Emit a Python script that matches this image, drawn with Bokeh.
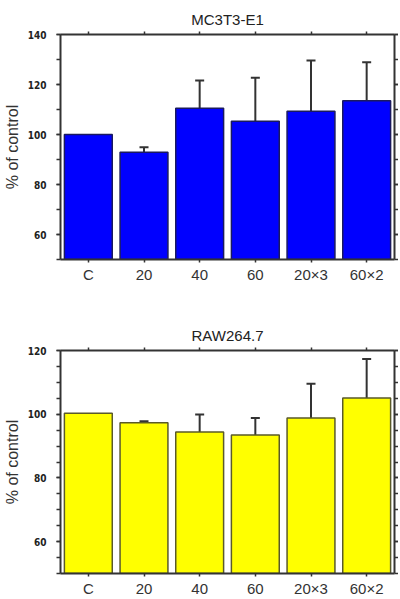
from bokeh.plotting import figure
from bokeh.models import (FactorRange, ColumnDataSource, Whisker, TeeHead, LinearAxis,
                          CategoricalAxis, SingleIntervalTicker, Range1d, CustomJSTickFormatter)
from bokeh.layouts import column
from bokeh.embed import file_html
from bokeh.resources import INLINE

categories = ["C", "20", "40", "60", "20×3", "60×2"]

mc3t3_mean = [100.0, 92.9, 110.5, 105.3, 109.3, 113.5]
mc3t3_sd = [0.0, 2.0, 11.1, 17.4, 20.3, 15.4]

raw_mean = [100.3, 97.3, 94.4, 93.5, 98.8, 105.1]
raw_sd = [0.0, 0.5, 5.5, 5.3, 10.8, 12.2]

AX = "#333333"
FONT = "Liberation Sans"


def make(title, means, sds, ymin, ymax, minor, fill, edge, fheight, top, bottom):
    p = figure(x_range=FactorRange(*categories, range_padding=0),
               y_range=Range1d(ymin, ymax), frame_width=334, frame_height=fheight,
               output_backend="svg", toolbar_location=None, title=title,
               min_border_left=53, min_border_right=3, min_border_top=top,
               min_border_bottom=bottom)
    p.outline_line_color = None
    p.grid.visible = False
    p.title.align = "center"
    p.title.text_font = FONT
    p.title.text_font_size = "15px"
    p.title.text_font_style = "normal"
    p.title.text_color = "#222222"
    p.title.standoff = 7

    src = ColumnDataSource(dict(x=categories, top=means))
    p.vbar(x="x", top="top", bottom=ymin, width=0.86, source=src,
           fill_color=fill, line_color=edge, line_width=1.5)

    ex = [c for c, s in zip(categories, sds) if s > 0]
    lo = [m for m, s in zip(means, sds) if s > 0]
    hi = [m + s for m, s in zip(means, sds) if s > 0]
    esrc = ColumnDataSource(dict(x=ex, lower=lo, upper=hi))
    p.add_layout(Whisker(base="x", lower="lower", upper="upper", source=esrc,
                         lower_head=None,
                         upper_head=TeeHead(size=9, line_color=AX, line_width=2),
                         line_color=AX, line_width=2))

    ticker = SingleIntervalTicker(interval=20, num_minor_ticks=minor)
    yl = p.yaxis[0]
    yl.ticker = ticker
    yl.axis_label = "% of control"
    yl.axis_label_text_font = FONT
    yl.axis_label_text_font_size = "16px"
    yl.axis_label_text_font_style = "normal"
    yl.axis_label_text_color = "#333333"
    yl.axis_label_standoff = 4
    yl.major_label_text_font = "DejaVu Sans Condensed"
    yl.major_label_text_font_style = "bold"
    yl.major_label_text_font_size = "10px"
    yl.major_label_text_color = "#222222"
    yl.major_label_standoff = 10

    xb = p.xaxis[0]
    xb.major_label_text_font = FONT
    xb.major_label_text_font_size = "15px"
    xb.major_label_text_color = "#333333"
    xb.major_label_standoff = 3

    blank = CustomJSTickFormatter(code="return ''")
    top_ax = CategoricalAxis(formatter=blank, major_label_standoff=0)
    right_ax = LinearAxis(ticker=ticker, formatter=blank, major_label_standoff=0)
    p.add_layout(top_ax, "above")
    p.add_layout(right_ax, "right")

    for ax in [yl, xb, top_ax, right_ax]:
        ax.axis_line_color = AX
        ax.axis_line_width = 2
        ax.major_tick_line_color = AX
        ax.minor_tick_line_color = AX
        ax.major_tick_line_width = 1.5
        ax.minor_tick_line_width = 1.5
        ax.major_tick_in = 0
        ax.minor_tick_in = 0
        ax.major_tick_out = 4
        ax.minor_tick_out = 4
    for ax in [xb, top_ax]:
        ax.major_tick_out = 3
    return p


p1 = make("MC3T3-E1", mc3t3_mean, mc3t3_sd, 50, 140, 2, "#0000FF", "#1a1a60", 225, 34, 27)
p2 = make("RAW264.7", raw_mean, raw_sd, 50, 120, 4, "#FFFF00", "#5a5a2a", 223, 64, 24)

layout = column(p1, p2, spacing=0)
open("out.html", "w").write(file_html(layout, INLINE))
